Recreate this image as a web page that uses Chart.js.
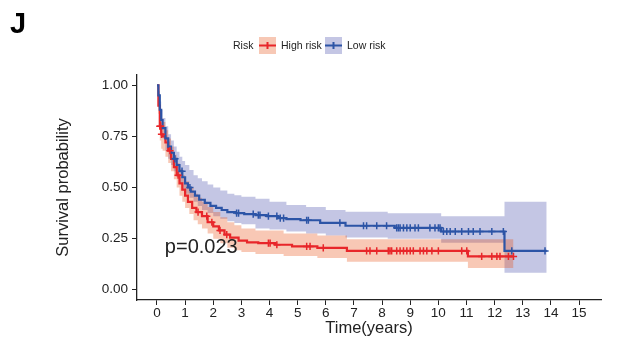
<!DOCTYPE html>
<html>
<head>
<meta charset="utf-8">
<script src="https://cdn.jsdelivr.net/npm/chart.js@4.4.1/dist/chart.umd.min.js"></script>
<style>
  html, body { margin: 0; padding: 0; background: #fff; }
  #wrap { position: relative; width: 624px; height: 337px; }
</style>
</head>
<body>
<div id="wrap"><canvas id="km"></canvas></div>
<script>
// Kaplan-Meier curves (value after each event time)
const lowTimes = [0, 0.05, 0.1, 0.15, 0.2, 0.3, 0.4, 0.5, 0.6, 0.7, 0.8, 0.9, 1.0, 1.1, 1.2, 1.35, 1.5, 1.7, 1.9, 2.1, 2.3, 2.5, 2.8, 3.1, 3.5, 3.9, 4.3, 4.6, 5.1, 5.8, 6.7, 8.45, 10.1, 12.35, 13.85];
const lowSurv  = [1.0, 0.95, 0.88, 0.83, 0.79, 0.74, 0.70, 0.67, 0.64, 0.61, 0.58, 0.55, 0.52, 0.50, 0.48, 0.46, 0.44, 0.425, 0.41, 0.40, 0.39, 0.38, 0.375, 0.37, 0.365, 0.36, 0.35, 0.345, 0.34, 0.327, 0.313, 0.303, 0.285, 0.19, 0.19];
const highTimes = [0, 0.05, 0.1, 0.15, 0.2, 0.3, 0.4, 0.5, 0.6, 0.7, 0.8, 0.9, 1.0, 1.1, 1.25, 1.4, 1.6, 1.8, 2.0, 2.2, 2.4, 2.6, 2.9, 3.2, 3.6, 4.2, 4.8, 5.7, 6.75, 11.05, 12.67];
const highSurv  = [1.0, 0.90, 0.80, 0.76, 0.75, 0.72, 0.68, 0.64, 0.60, 0.56, 0.52, 0.49, 0.46, 0.43, 0.40, 0.38, 0.36, 0.33, 0.31, 0.29, 0.27, 0.255, 0.24, 0.232, 0.228, 0.22, 0.212, 0.205, 0.19, 0.163, 0.163];

// confidence bands
const lowBandTimes = [0, 0.05, 0.1, 0.15, 0.2, 0.3, 0.4, 0.5, 0.6, 0.7, 0.8, 0.9, 1.0, 1.15, 1.3, 1.45, 1.6, 1.8, 2.0, 2.25, 2.5, 2.75, 3.0, 3.5, 4.0, 4.6, 5.3, 6.0, 6.7, 8.2, 10.1, 12.35, 13.85];
const lowUpper     = [1.0, 0.97, 0.92, 0.88, 0.84, 0.80, 0.76, 0.73, 0.70, 0.675, 0.65, 0.63, 0.61, 0.585, 0.56, 0.545, 0.53, 0.515, 0.50, 0.485, 0.47, 0.462, 0.455, 0.445, 0.43, 0.415, 0.405, 0.39, 0.382, 0.374, 0.36, 0.43, 0.43];
const lowLower     = [1.0, 0.93, 0.85, 0.78, 0.74, 0.68, 0.64, 0.61, 0.58, 0.55, 0.52, 0.495, 0.47, 0.45, 0.43, 0.41, 0.39, 0.375, 0.36, 0.347, 0.335, 0.327, 0.32, 0.30, 0.295, 0.285, 0.275, 0.265, 0.255, 0.25, 0.23, 0.083, 0.083];
const highBandTimes = [0, 0.05, 0.1, 0.15, 0.2, 0.3, 0.4, 0.5, 0.6, 0.7, 0.8, 0.9, 1.0, 1.15, 1.3, 1.45, 1.6, 1.8, 2.0, 2.25, 2.5, 2.75, 3.0, 3.5, 4.5, 5.7, 6.75, 11.05, 12.67];
const highUpper     = [1.0, 0.96, 0.88, 0.84, 0.82, 0.78, 0.74, 0.70, 0.66, 0.62, 0.59, 0.56, 0.53, 0.50, 0.47, 0.45, 0.43, 0.405, 0.38, 0.355, 0.33, 0.315, 0.30, 0.29, 0.275, 0.265, 0.247, 0.247, 0.247];
const highLower     = [1.0, 0.86, 0.73, 0.69, 0.68, 0.65, 0.62, 0.58, 0.54, 0.50, 0.46, 0.43, 0.40, 0.37, 0.34, 0.32, 0.30, 0.275, 0.25, 0.227, 0.205, 0.193, 0.185, 0.175, 0.165, 0.155, 0.137, 0.107, 0.107];

// censoring times
const lowCensor = [0.64, 0.89, 1.17, 2.83, 2.9, 3.42, 3.6, 3.66, 3.96, 4.26, 4.38, 4.5, 5.32, 5.38, 6.5, 7.34, 7.45, 7.81, 8.16, 8.52, 8.58, 8.64, 8.76, 8.88, 9.0, 9.17, 9.29, 9.7, 9.88, 10.0, 10.06, 10.18, 10.3, 10.42, 10.6, 10.83, 11.07, 11.24, 11.48, 11.9, 12.31, 12.61, 13.79];
const highCensor = [0.1, 0.13, 0.16, 0.46, 0.75, 1.46, 1.77, 1.95, 2.24, 2.48, 3.96, 4.02, 4.26, 5.32, 5.44, 5.91, 7.45, 7.57, 7.81, 8.22, 8.28, 8.34, 8.52, 8.64, 8.76, 8.88, 9.0, 9.11, 9.35, 9.47, 9.59, 9.77, 10.0, 10.83, 11.01, 11.54, 11.9, 12.08, 12.19, 12.49, 12.67];

const xTicks = [0, 1, 2, 3, 4, 5, 6, 7, 8, 9, 10, 11, 12, 13, 14, 15];
const yTicks = [0, 0.25, 0.5, 0.75, 1.0];
const pValue = 'p=0.023';

const RED = '#E8262A';
const BLUE = '#2C54A6';
const RED_FILL = 'rgba(232,72,10,0.3)';
const BLUE_FILL = 'rgba(58,65,165,0.3)';

function toPoints(times, vals) {
    return times.map((t, i) => ({ x: t, y: vals[i] }));
}

function survAt(times, vals, t) {
    let v = vals[0];
    for (let i = 0; i < times.length; i++) {
        if (times[i] <= t) v = vals[i];
    }
    return v;
}

function censorPoints(cens, times, vals) {
    return cens.map(t => ({ x: t, y: survAt(times, vals, t) }));
}

function band(label, data, fill, color, order) {
    return {
        label: label, data: data, stepped: true, pointRadius: 0,
        borderColor: 'rgba(0,0,0,0)', borderWidth: 0,
        backgroundColor: color, fill: fill, order: order
    };
}

const extras = {
    id: 'extras',
    afterDraw(chart) {
        const ctx = chart.ctx;
        const xs = chart.scales.x, ys = chart.scales.y;
        ctx.save();
        // panel letter
        ctx.fillStyle = '#000';
        ctx.font = 'bold 29px "Liberation Sans", Arial, sans-serif';
        ctx.textBaseline = 'alphabetic';
        ctx.fillText('J', 10, 33);

        // p value
        ctx.fillStyle = '#222';
        ctx.font = '20px "Liberation Sans", Arial, sans-serif';
        ctx.textBaseline = 'middle';
        ctx.fillText(pValue, xs.getPixelForValue(0.28), ys.getPixelForValue(0.205));

        // legend
        ctx.font = '10.5px "Liberation Sans", Arial, sans-serif';
        ctx.fillStyle = '#222';
        ctx.fillText('Risk', 233, 46);
        const keys = [
            { x: 259, fill: '#F7C8B5', line: RED, text: 'High risk' },
            { x: 325, fill: '#C4C6E4', line: BLUE, text: 'Low risk' }
        ];
        keys.forEach(k => {
            ctx.fillStyle = k.fill;
            ctx.fillRect(k.x, 37, 17, 17);
            ctx.strokeStyle = k.line;
            ctx.lineWidth = 2;
            ctx.beginPath();
            ctx.moveTo(k.x, 45.5); ctx.lineTo(k.x + 17, 45.5);
            ctx.moveTo(k.x + 8.5, 42); ctx.lineTo(k.x + 8.5, 49);
            ctx.stroke();
            ctx.fillStyle = '#222';
            ctx.fillText(k.text, k.x + 22, 46);
        });
        ctx.restore();
    }
};

const chart = new Chart(document.getElementById('km'), {
    type: 'line',
    data: {
        datasets: [
            {
                label: 'High risk censored', data: censorPoints(highCensor, highTimes, highSurv),
                showLine: false, pointStyle: 'cross', pointRadius: 3.6, pointBorderWidth: 1.5,
                borderColor: RED, pointBorderColor: RED, order: 0
            },
            {
                label: 'Low risk censored', data: censorPoints(lowCensor, lowTimes, lowSurv),
                showLine: false, pointStyle: 'cross', pointRadius: 3.6, pointBorderWidth: 1.5,
                borderColor: BLUE, pointBorderColor: BLUE, order: 0
            },
            {
                label: 'Low risk', data: toPoints(lowTimes, lowSurv), stepped: true,
                borderColor: BLUE, borderWidth: 2.2, pointRadius: 0, fill: false, order: 1
            },
            {
                label: 'High risk', data: toPoints(highTimes, highSurv), stepped: true,
                borderColor: RED, borderWidth: 2.2, pointRadius: 0, fill: false, order: 1
            },
            band('High upper', toPoints(highBandTimes, highUpper), false, RED_FILL, 2),
            band('High lower', toPoints(highBandTimes, highLower), '-1', RED_FILL, 2),
            band('Low upper', toPoints(lowBandTimes, lowUpper), false, BLUE_FILL, 3),
            band('Low lower', toPoints(lowBandTimes, lowLower), '-1', BLUE_FILL, 3)
        ]
    },
    options: {
        responsive: true,
        maintainAspectRatio: false,
        animation: false,
        events: [],
        layout: { padding: { left: 0, right: 23, top: 75, bottom: 0 } },
        plugins: { legend: { display: false }, tooltip: { enabled: false } },
        scales: {
            x: {
                type: 'linear', min: -0.71, max: 15.78,
                afterBuildTicks: s => { s.ticks = xTicks.map(v => ({ value: v })); },
                afterFit: s => { s.height = 37; },
                grid: { drawOnChartArea: false, drawTicks: true, tickLength: 5, color: '#222', tickWidth: 1 },
                border: { display: true, color: '#222', width: 1.3 },
                ticks: { color: '#222', padding: 0, maxRotation: 0, autoSkip: false,
                         font: { family: '"Liberation Sans", Arial, sans-serif', size: 13.5 } },
                title: { display: true, text: 'Time(years)', color: '#222',
                         font: { family: '"Liberation Sans", Arial, sans-serif', size: 16.5, lineHeight: 1.0 },
                         padding: { top: 0, bottom: 0 } }
            },
            y: {
                type: 'linear', min: -0.05, max: 1.05,
                afterBuildTicks: s => { s.ticks = yTicks.map(v => ({ value: v })); },
                afterFit: s => { s.width = 137; },
                grid: { drawOnChartArea: false, drawTicks: true, tickLength: 5, color: '#222', tickWidth: 1 },
                border: { display: true, color: '#222', width: 1.3 },
                ticks: { color: '#222', padding: 4, callback: v => v.toFixed(2),
                         font: { family: '"Liberation Sans", Arial, sans-serif', size: 13.5 } },
                title: { display: true, text: 'Survival probability', color: '#222',
                         font: { family: '"Liberation Sans", Arial, sans-serif', size: 16.5, lineHeight: 1.2 },
                         padding: { top: 54, bottom: 0 } }
            }
        }
    },
    plugins: [extras]
});
</script>
</body>
</html>
